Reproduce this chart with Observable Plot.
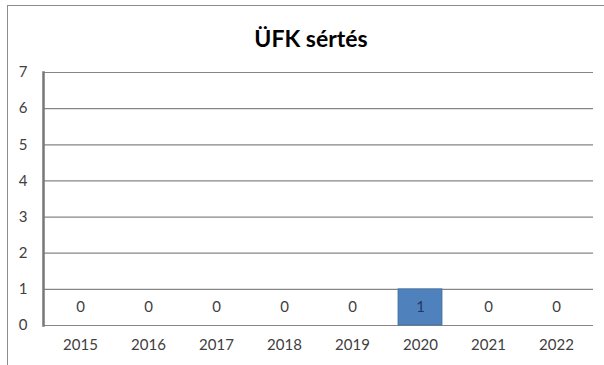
<!DOCTYPE html>
<html>
<head>
<meta charset="utf-8">
<script src="https://cdn.jsdelivr.net/npm/d3@7"></script>
<script src="https://cdn.jsdelivr.net/npm/@observablehq/plot@0.6"></script>
<style>
  html, body { margin: 0; padding: 0; background: #fff; }
  #wrap { position: relative; width: 604px; height: 365px; overflow: hidden; }
  #frame { position: absolute; left: 7px; top: 5px; right: -2px; bottom: -2px;
           border-left: 1.5px solid #8c8c8c; border-top: 1.5px solid #8c8c8c; }
  #title { position: absolute; left: 0; width: 622px; top: 24px; text-align: center;
           font-family: Lato, "Open Sans", sans-serif; font-weight: bold; font-size: 23px; color: #000; }
  #chart { position: absolute; left: 0; top: 0; }
</style>
</head>
<body>
<div id="wrap">
  <div id="frame"></div>
  <div id="title">ÜFK sértés</div>
  <div id="chart"></div>
</div>
<script>
const years = ["2015", "2016", "2017", "2018", "2019", "2020", "2021", "2022"];
const counts = [0, 0, 0, 0, 0, 1, 0, 0];
const yTicks = [0, 1, 2, 3, 4, 5, 6, 7];

const data = years.map((year, i) => ({year, count: counts[i]}));
const labelY = d => d.count > 0 ? d.count / 2 : 0.5;

const chart = Plot.plot({
  width: 604,
  height: 365,
  marginTop: 72,
  marginBottom: 40,
  marginLeft: 43,
  marginRight: 11,
  style: {fontFamily: "Lato, 'Open Sans', sans-serif", fontSize: "15px", color: "#404040", background: "transparent"},
  x: {domain: years, paddingInner: 0.36, paddingOuter: 0.18, label: null},
  y: {domain: [0, 7], label: null},
  marks: [
    Plot.gridY(yTicks, {stroke: "#868686", strokeOpacity: 1, strokeWidth: 1.2}),
    Plot.frame({anchor: "left", stroke: "#777777", strokeOpacity: 1, strokeWidth: 2.5}),
    Plot.barY(data, {x: "year", y: "count", fill: "#4f81bd", stroke: "#41719c", strokeWidth: 0.8}),
    Plot.text(data.filter(d => d.count === 0), {x: "year", y: labelY, text: d => String(d.count), fill: "#404040", fontSize: 15}),
    Plot.text(data.filter(d => d.count > 0), {x: "year", y: labelY, text: d => String(d.count), fill: "#1f3864", fontSize: 15}),
    Plot.axisX({tickSize: 0, tickPadding: 14, fill: "#404040"}),
    Plot.axisY(yTicks, {tickSize: 0, tickPadding: 16, fill: "#404040"})
  ]
});
document.getElementById("chart").appendChild(chart);
</script>
</body>
</html>
